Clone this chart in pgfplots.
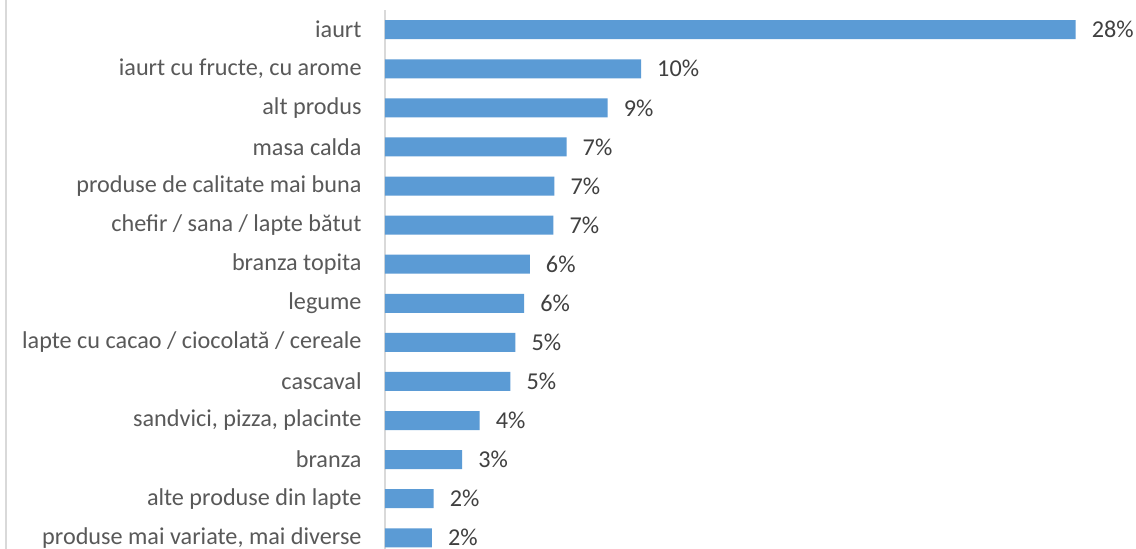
\documentclass[border=0pt]{standalone}
\usepackage{pgfplots}
\pgfplotsset{compat=1.18}
\usepackage{fontspec}
\setmainfont{Carlito}
\definecolor{barblue}{HTML}{5B9BD5}
\definecolor{lbl}{HTML}{595959}
\definecolor{val}{HTML}{404040}
\definecolor{axgray}{HTML}{D9D9D9}
\begin{document}
\begin{tikzpicture}[x=1pt,y=1pt]
\useasboundingbox (0,0) rectangle (1136,549);
\clip (0,0) rectangle (1136,549);
\fill[white] (0,0) rectangle (1136,549);
\draw[axgray, line width=1.5pt] (6,0) -- (6,549);
\begin{axis}[
  at={(385pt,538.8pt)}, anchor=north west,
  scale only axis, width=740pt, height=547.1pt,
  xbar, bar width=19pt,
  xmin=0, xmax=30,
  ymin=-0.5, ymax=13.5, y dir=reverse,
  ytick={0,...,13},
  yticklabels={iaurt, {iaurt cu fructe, cu arome}, alt produs, masa calda, produse de calitate mai buna, chefir / sana / lapte bătut, branza topita, legume, lapte cu cacao / ciocolată / cereale, cascaval, {sandvici, pizza, placinte}, branza, alte produse din lapte, {produse mai variate, mai diverse}},
  axis x line=none,
  axis y line*=left,
  y axis line style={axgray, line width=1.5pt},
  ytick style={draw=none},
  yticklabel style={font=\fontsize{24.2}{29}\selectfont, text=lbl, inner sep=0pt, anchor=east, xshift=-19pt},
  point meta=x,
  nodes near coords={\pgfmathprintnumber[fixed,precision=0,assume math mode=true]{\pgfplotspointmeta}\%},
  nodes near coords style={font=\fontsize{24.2}{29}\selectfont, text=val, anchor=west, inner sep=0pt, xshift=16pt},
]
\addplot[fill=barblue, draw=none] coordinates {
(28,0) (10.38,1) (9.03,2) (7.36,3) (6.87,4) (6.83,5) (5.87,6) (5.64,7) (5.29,8) (5.08,9) (3.84,10) (3.13,11) (1.97,12) (1.90,13)
};
\end{axis}
\end{tikzpicture}
\end{document}
